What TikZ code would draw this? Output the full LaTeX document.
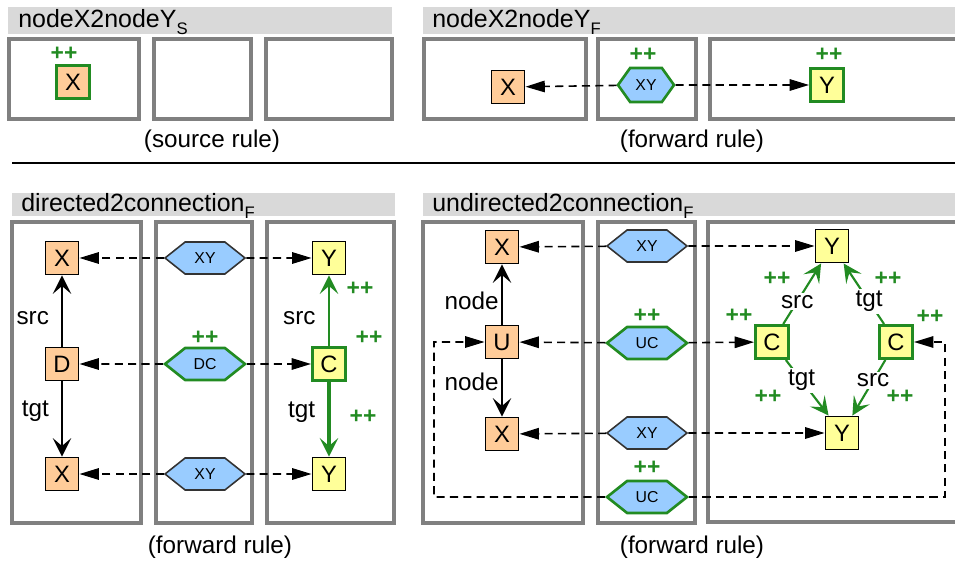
\documentclass[tikz,border=0pt]{standalone}
\usepackage{fontspec}
\setmainfont{Liberation Sans}
\usetikzlibrary{arrows.meta, shapes.symbols, positioning}
\definecolor{peach}{RGB}{255,204,153}
\definecolor{paleyellow}{RGB}{255,255,153}
\definecolor{hexblue}{RGB}{153,204,255}
\definecolor{grn}{RGB}{34,139,34}
\definecolor{panelgray}{RGB}{128,128,128}
\definecolor{headergray}{RGB}{217,217,217}
\newcommand{\rulesub}[1]{\raisebox{-0.5ex}{\fontsize{9.5}{9.5}\selectfont #1}}
\tikzset{
  panel/.style={draw=panelgray, line width=1.8pt},
  header/.style={fill=headergray},
  cls/.style={draw, line width=1.1pt, minimum size=0.66cm, inner sep=0pt, font=\fontsize{13.5}{13.5}\selectfont},
  srcnode/.style={cls, fill=peach},
  tgtnode/.style={cls, fill=paleyellow},
  created/.style={draw=grn, line width=1.7pt},
  corr/.style={signal, signal to=west and east, signal pointer angle=77, draw=black!80, fill=hexblue, line width=0.9pt, minimum width=1.6cm, minimum height=0.64cm, inner sep=0pt, font=\fontsize{9}{9}\selectfont},
  corrsmall/.style={corr, signal pointer angle=109, minimum width=1.12cm, minimum height=0.68cm},
  newcorr/.style={draw=grn, line width=1.5pt},
  plus/.style={text=grn, font=\bfseries\fontsize{13}{13}\selectfont},
  lbl/.style={inner sep=1pt},
  corrarrow/.style={dash pattern=on 4.6pt off 3pt, line width=0.9pt, -{Triangle[length=11pt,width=6.5pt]}},
  edge/.style={line width=0.9pt, -{Stealth[length=10.5pt,width=10.5pt,inset=4.5pt]}},
  newedge/.style={edge, draw=grn, line width=1.3pt, -{Stealth[length=10.5pt,width=10.5pt,inset=4.5pt,grn]}}
}
\begin{document}
\begin{tikzpicture}[x=0.02cm, y=-0.02cm, font=\fontsize{13.8}{16}\selectfont]
\useasboundingbox (0,0) rectangle (955,563);
\fill[header] (8,7) rectangle (392,34);
\fill[header] (423,7) rectangle (955,34);
\fill[header] (12,193) rectangle (395,216);
\fill[header] (423,193) rectangle (955,216);
\node[anchor=base west, inner sep=0pt, font=\fontsize{14.2}{16}\selectfont] (hdSrc) at (18,28) {nodeX2nodeY\rulesub{S}};
\node[anchor=base west, inner sep=0pt, font=\fontsize{14.2}{16}\selectfont] (hdFwd) at (432,28) {nodeX2nodeY\rulesub{F}};
\node[anchor=base west, inner sep=0pt, font=\fontsize{14.2}{16}\selectfont] (hdDir) at (21,212) {directed2connection\rulesub{F}};
\node[anchor=base west, inner sep=0pt, font=\fontsize{14.2}{16}\selectfont] (hdUnd) at (432,212) {undirected2connection\rulesub{F}};
\draw[panel] (9,39) rectangle (139,119);
\draw[panel] (154,39) rectangle (251,119);
\draw[panel] (266,39) rectangle (392,119);
\draw[panel] (424,39) rectangle (586,119);
\draw[panel] (598,39) rectangle (696,119);
\draw[panel] (710,39) rectangle (962,119);
\draw[panel] (12,222) rectangle (141,523);
\draw[panel] (156,222) rectangle (252,523);
\draw[panel] (267,222) rectangle (394,523);
\draw[panel] (423,222) rectangle (583,523);
\draw[panel] (598,222) rectangle (695,523);
\draw[panel] (708,222) rectangle (962,522);
\draw[line width=1.2pt] (12,163) -- (955,163);
\node (capSrc) at (212,141) {(source rule)};
\node (capFwd) at (692,141) {(forward rule)};
\node (capDir) at (220,547) {(forward rule)};
\node (capUnd) at (692,547) {(forward rule)};
\node[srcnode, created] (xS) at (73,82) {X};
\node[plus] (pxS) at (64,54) {++};
\node[srcnode] (xF) at (508,87) {X};
\node[corrsmall, newcorr] (xyF) at (646,85) {XY};
\node[tgtnode, created] (yF) at (827,85) {Y};
\node[plus] (pxyF) at (643,55) {++};
\node[plus] (pyF) at (829,55) {++};
\draw[corrarrow] (xyF) -- (xF);
\draw[corrarrow] (xyF) -- (yF);
\node[srcnode] (xD1) at (62,258) {X};
\node[srcnode] (dD) at (62,364) {D};
\node[srcnode] (xD2) at (62,474) {X};
\node[corr] (xyD1) at (205,258) {XY};
\node[corr, newcorr] (dcD) at (205,364) {DC};
\node[corr] (xyD2) at (205,474) {XY};
\node[tgtnode] (yD1) at (329,258) {Y};
\node[tgtnode, created] (cD) at (329,364) {C};
\node[tgtnode] (yD2) at (329,474) {Y};
\draw[edge] (dD) -- node[lbl, pos=.4, left=6pt] {src} (xD1);
\draw[edge] (dD) -- node[lbl, pos=.4, left=6pt] {tgt} (xD2);
\draw[newedge] (cD) -- node[lbl, pos=.4, left=6pt, text=black] {src} (yD1);
\draw[newedge, line width=1.9pt] (cD) -- node[lbl, pos=.4, left=6pt, text=black] {tgt} (yD2);
\draw[corrarrow] (xyD1) -- (xD1);
\draw[corrarrow] (xyD1) -- (yD1);
\draw[corrarrow] (dcD) -- (dD);
\draw[corrarrow] (dcD) -- (cD);
\draw[corrarrow] (xyD2) -- (xD2);
\draw[corrarrow] (xyD2) -- (yD2);
\node[plus] (pdcD) at (205,338) {++};
\node[plus] (pcD) at (369,338) {++};
\node[plus] (psrcD) at (360,289) {++};
\node[plus] (ptgtD) at (363,417) {++};
\node[srcnode] (xU1) at (502,247) {X};
\node[srcnode] (uU) at (502,342) {U};
\node[srcnode] (xU2) at (502,434) {X};
\node[corr] (xyU1) at (647,246) {XY};
\node[corr, newcorr] (ucU1) at (647,343) {UC};
\node[corr] (xyU2) at (647,433) {XY};
\node[corr, newcorr] (ucU2) at (647,497) {UC};
\node[tgtnode] (yU1) at (832,246) {Y};
\node[tgtnode, created] (cU1) at (772,342) {C};
\node[tgtnode, created] (cU2) at (896,342) {C};
\node[tgtnode] (yU2) at (842,433) {Y};
\coordinate (loopL) at (434,497);
\coordinate (loopR) at (945,497);
\draw[edge] (uU) -- node[lbl, pos=.4, left=0.5pt] {node} (xU1);
\draw[edge] (uU) -- node[lbl, pos=.4, left=0.5pt] {node} (xU2);
\draw[corrarrow] (xyU1) -- (xU1);
\draw[corrarrow] (xyU1) -- (yU1);
\draw[corrarrow] (ucU1) -- (uU);
\draw[corrarrow] (ucU1) -- (cU1);
\draw[corrarrow] (xyU2) -- (xU2);
\draw[corrarrow] (xyU2) -- (yU2);
\draw[corrarrow] (ucU2) -- (loopL) |- (uU);
\draw[corrarrow] (ucU2) -- (loopR) |- (cU2);
\draw[newedge, line width=1.2pt] (cU1) -- node[lbl, pos=.37, fill=white, text=black] {src} (yU1);
\draw[newedge, line width=1.2pt] (cU2) -- node[lbl, pos=.37, fill=white, text=black] {tgt} (yU1);
\draw[newedge, line width=1.2pt] (cU1) -- node[lbl, pos=.37, fill=white, text=black] {tgt} (yU2);
\draw[newedge, line width=1.2pt] (cU2) -- node[lbl, pos=.37, fill=white, text=black] {src} (yU2);
\node[plus] (pucU1) at (647,316) {++};
\node[plus] (pucU2) at (647,468) {++};
\node[plus] (pcU1) at (739,316) {++};
\node[plus] (pcU2) at (930,317) {++};
\node[plus] (ps1U) at (777,279) {++};
\node[plus] (pt1U) at (888,279) {++};
\node[plus] (pt2U) at (768,397) {++};
\node[plus] (ps2U) at (900,397) {++};
\end{tikzpicture}
\end{document}
